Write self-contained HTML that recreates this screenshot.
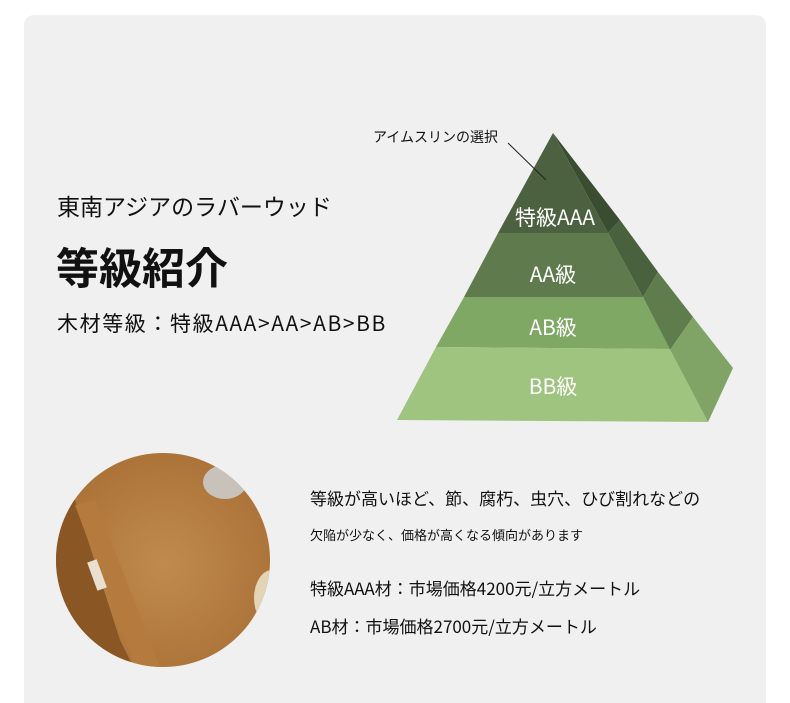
<!DOCTYPE html>
<html style="overflow:hidden;height:703px"><head><meta charset="utf-8"><style>
body{margin:0;width:790px;height:703px;background:#fff;position:relative;overflow:hidden;font-family:"Noto Sans CJK JP","Liberation Sans",sans-serif;color:#111}
.card{position:absolute;left:24px;top:15px;width:742px;height:688px;background:#f0f0f0;border-radius:10px 10px 0 0}
.t{position:absolute;white-space:nowrap;line-height:1.2}
</style></head><body>
<div class="card"></div>
<div class="t" style="left:57px;top:192px;font-size:23px;">東南アジアのラバーウッド</div>
<div class="t" style="left:56px;top:240px;font-size:43px;font-weight:bold;line-height:52px">等級紹介</div>
<div class="t" style="left:57px;top:311px;font-size:21px;letter-spacing:1.6px">木材等級：特級AAA&gt;AA&gt;AB&gt;BB</div>
<svg style="position:absolute;left:0;top:0" width="790" height="703">
<defs>
<radialGradient id="w" cx="0.5" cy="0.5" r="0.6"><stop offset="0" stop-color="#c08a4e"/><stop offset="1" stop-color="#a86e34"/></radialGradient>
<clipPath id="c"><circle cx="163" cy="560" r="107"/></clipPath>
</defs>
<polygon points="553,133 620,220 608,233" fill="#3b4d30"/>
<polygon points="620,220 658,272 643,297 608,233" fill="#4a613d"/>
<polygon points="658,272 693,317 670,350 643,297" fill="#5f7c4d"/>
<polygon points="693,317 733,368 708,422 670,350" fill="#7fa466"/>
<polygon points="553,133 608,233 498,233" fill="#4c6140"/>
<polygon points="498,233 608,233 643,297 464,297" fill="#5f7b4d"/>
<polygon points="464,297 643,297 670,349 436,347" fill="#7fa865"/>
<polygon points="436,347 670,349 708,422 397,420" fill="#9ec47f"/>
<line x1="508" y1="143" x2="546" y2="180" stroke="#222" stroke-width="1"/>
<text x="373" y="142" font-size="14" fill="#111" font-family="Noto Sans CJK JP">アイムスリンの選択</text>
<g fill="#fff" font-size="21" text-anchor="middle" font-family="Noto Sans CJK JP">
<text x="555" y="225">特級AAA</text>
<text x="553" y="282">AA級</text>
<text x="553" y="335">AB級</text>
<text x="553" y="394">BB級</text>
</g>
<g clip-path="url(#c)">
<rect x="50" y="450" width="230" height="230" fill="url(#w)"/>
<polygon points="50,500 75,500 120,640 140,680 50,680" fill="#8a5624"/>
<polygon points="75,505 95,500 165,680 140,680" fill="#b57a3e"/>
<rect x="92" y="560" width="10" height="30" fill="#e8e0d0" transform="rotate(-20 97 575)"/>
<ellipse cx="225" cy="482" rx="22" ry="17" fill="#c8c2ba"/>
<ellipse cx="272" cy="598" rx="18" ry="28" fill="#e2d4b4"/>
</g>
</svg>
<div class="t" style="left:310px;top:488px;font-size:17px;">等級が高いほど、節、腐朽、虫穴、ひび割れなどの</div>
<div class="t" style="left:310px;top:527px;font-size:13px;">欠陥が少なく、価格が高くなる傾向があります</div>
<div class="t" style="left:310px;top:578px;font-size:17px;">特級AAA材：市場価格4200元/立方メートル</div>
<div class="t" style="left:310px;top:616px;font-size:17px;">AB材：市場価格2700元/立方メートル</div>
</body></html>
